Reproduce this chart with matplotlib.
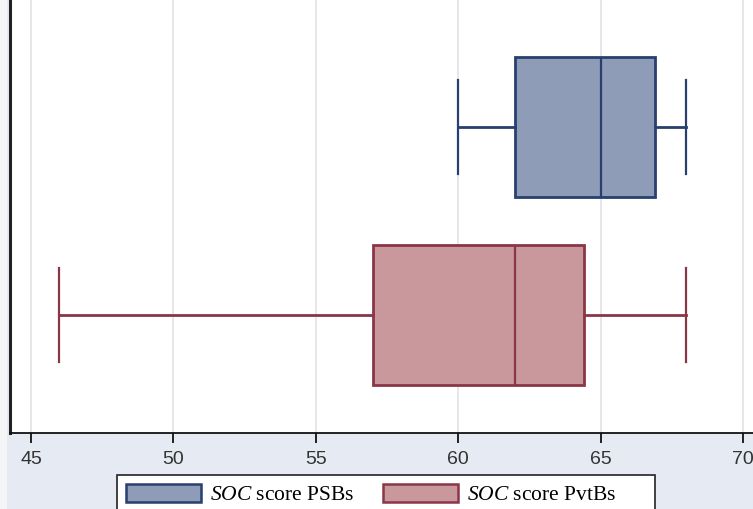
import matplotlib
matplotlib.use("Agg")
import matplotlib.pyplot as plt
from matplotlib.patches import Patch, Rectangle

plt.rcParams["mathtext.fontset"] = "custom"
plt.rcParams["mathtext.rm"] = "Liberation Serif"
plt.rcParams["mathtext.it"] = "Liberation Serif:italic"

groups = ["SOC score PSBs", "SOC score PvtBs"]
whislo = [60, 46]
q1 = [62, 57]
med = [65, 62]
q3 = [66.9, 64.4]
whishi = [68, 68]
xticks = [45, 50, 55, 60, 65, 70]

fills = ["#8f9cb7", "#c8989c"]
edges = ["#27406e", "#8a3646"]
legend_labels = [r"$\mathit{SOC}$ score PSBs", r"$\mathit{SOC}$ score PvtBs"]

W, H = 753, 509
fig = plt.figure(figsize=(W / 100, H / 100), dpi=100)
fig.patch.set_facecolor("#e6eaf3")
fig.patches.append(Rectangle((0, 0), 7 / W, 1, transform=fig.transFigure,
                             facecolor="#f4f5f7", edgecolor="none", zorder=0))

ax = fig.add_axes([10 / W, (H - 433) / H, 1 - 10 / W, 433 / H])
ax.set_facecolor("white")

positions = [2, 1]
stats = []
for i in range(2):
    stats.append(dict(whislo=whislo[i], q1=q1[i], med=med[i], q3=q3[i],
                      whishi=whishi[i], fliers=[], label=groups[i]))

for i in range(2):
    ax.bxp([stats[i]], positions=[positions[i]], vert=False, widths=0.745,
           patch_artist=True, showfliers=False,
           boxprops=dict(facecolor=fills[i], edgecolor=edges[i], linewidth=2),
           medianprops=dict(color=edges[i], linewidth=1.6),
           whiskerprops=dict(color=edges[i], linewidth=2),
           capprops=dict(color=edges[i], linewidth=1.6),
           capwidths=0.505, zorder=3)

ax.set_xlim(44.263, 70.351)
ax.set_ylim(0.372, 2.676)
ax.set_xticks(xticks)
ax.set_xticklabels([str(t) for t in xticks])
ax.set_yticks([])
ax.grid(axis="x", color="#e3e3e8", linewidth=1.2, zorder=0)
ax.set_axisbelow(True)

for s in ["top", "right"]:
    ax.spines[s].set_visible(False)
ax.spines["left"].set_linewidth(2.2)
ax.spines["left"].set_color("#222222")
ax.spines["bottom"].set_linewidth(1.3)
ax.spines["bottom"].set_color("#111111")
ax.tick_params(axis="x", direction="out", length=7, width=1.3, pad=6,
               labelsize=14, colors="#111111")
for lbl in ax.get_xticklabels():
    lbl.set_family(["Liberation Sans Narrow", "Liberation Sans", "DejaVu Sans"])
    lbl.set_color("#333333")

# legend frame (Stata-style wide box, cut off at the bottom)
fig.patches.append(Rectangle((117 / W, -0.05), (655 - 117) / W, (H - 475) / H + 0.05,
                             transform=fig.transFigure, facecolor="white",
                             edgecolor="#222222", linewidth=1.2, zorder=4))

handles = [Patch(facecolor=fills[i], edgecolor=edges[i], linewidth=1.8)
           for i in range(2)]
leg = fig.legend(handles, legend_labels, loc="upper left",
                 bbox_to_anchor=(117 / W, 1 - 475 / H), ncol=2,
                 frameon=False,
                 prop=dict(family="Liberation Serif", size=15.5),
                 handlelength=3.49, handleheight=0.88, columnspacing=1.3,
                 borderpad=0.42, handletextpad=0.42, borderaxespad=0)
leg.set_zorder(5)

fig.savefig("out.png", dpi=100, facecolor=fig.get_facecolor())
